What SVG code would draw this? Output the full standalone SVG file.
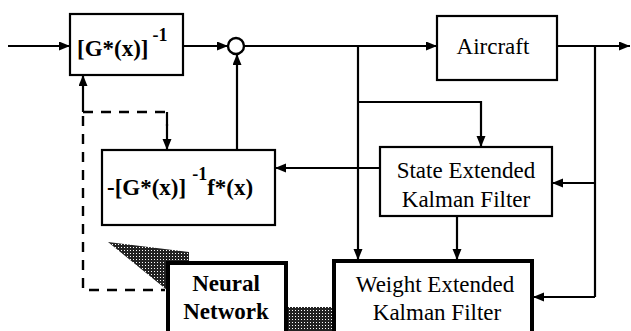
<svg xmlns="http://www.w3.org/2000/svg" width="631" height="331" viewBox="0 0 631 331">
<defs>
<marker id="ah" markerUnits="userSpaceOnUse" markerWidth="12" markerHeight="10" refX="11" refY="4.5" orient="auto">
<path d="M0,0 L11,4.5 L0,9 z" fill="#000"/>
</marker>
<pattern id="dither" width="3" height="3" patternUnits="userSpaceOnUse">
<rect width="3" height="3" fill="#222"/>
<rect x="1" y="1" width="1" height="1" fill="#fff"/>
</pattern>
<style>
.box{fill:#fff;stroke:#000;stroke-width:2.2}
.thick{fill:#fff;stroke:#000;stroke-width:4}
.ln{fill:none;stroke:#000;stroke-width:2.2}
.arr{fill:none;stroke:#000;stroke-width:2.2;marker-end:url(#ah)}
.dash{fill:none;stroke:#000;stroke-width:2.4;stroke-dasharray:10 8}
.t{font-family:"Liberation Serif","Times New Roman",serif;font-size:23px;fill:#000;text-anchor:middle}
.b{font-family:"Liberation Serif","Times New Roman",serif;font-size:23px;font-weight:bold;fill:#000}
.bs{font-family:"Liberation Serif","Times New Roman",serif;font-size:18px;font-weight:bold;fill:#000}
</style>
</defs>
<rect width="631" height="331" fill="#fff"/>

<g id="shadows">
<polygon points="108,242 189,252 189,263 167,263 167,290" fill="url(#dither)"/>
<rect x="287" y="307" width="46" height="24" fill="url(#dither)"/>
</g>

<g id="connectors">
<line class="arr" x1="8" y1="46" x2="70" y2="46"/>
<line class="arr" x1="183" y1="46" x2="228" y2="46"/>
<line class="arr" x1="244" y1="46" x2="437" y2="46"/>
<line class="arr" x1="557" y1="46" x2="630" y2="46"/>
<line class="arr" x1="237" y1="150" x2="237" y2="54"/>
<polyline class="arr" points="358,46 358,260"/>
<polyline class="arr" points="358,102 481,102 481,147"/>
<line class="arr" x1="380" y1="168" x2="275" y2="168"/>
<line class="ln" x1="595" y1="46" x2="595" y2="297"/>
<line class="arr" x1="595" y1="183" x2="552" y2="183"/>
<line class="arr" x1="595" y1="297" x2="533" y2="297"/>
<line class="arr" x1="457" y1="216" x2="457" y2="260"/>
<line class="arr" x1="83" y1="112" x2="83" y2="75"/>
<path class="dash" d="M83,112 L165,112"/>
<path class="arr" d="M167,124 L167,150"/>
<line class="ln" x1="167" y1="112" x2="167" y2="126"/>
<path class="dash" d="M83,116 L83,290 L165,290"/>
</g>

<g id="sum">
<circle cx="236" cy="46" r="8" fill="#fff" stroke="#000" stroke-width="2.4"/>
</g>

<g id="ginv">
<rect class="box" x="70" y="14" width="113" height="61"/>
<text class="b" x="77" y="56">[G*(x)]<tspan class="bs" dx="4" dy="-15">-1</tspan></text>
</g>

<g id="aircraft">
<rect class="box" x="437" y="16" width="120" height="64"/>
<text class="t" x="493" y="54">Aircraft</text>
</g>

<g id="feedback">
<rect class="box" x="102" y="150" width="173" height="75"/>
<text class="b" x="107" y="195">-[G*(x)]<tspan class="bs" dx="6" dy="-15">-1</tspan><tspan dy="15">f*(x)</tspan></text>
</g>

<g id="state">
<rect class="box" x="380" y="147" width="172" height="69"/>
<text class="t" x="466" y="178">State Extended</text>
<text class="t" x="466" y="207">Kalman Filter</text>
</g>

<g id="neural">
<rect class="thick" x="168" y="263" width="118" height="72"/>
<text class="b" x="226" y="291" text-anchor="middle">Neural</text>
<text class="b" x="226" y="319" text-anchor="middle">Network</text>
</g>

<g id="weight">
<rect class="thick" x="334" y="261" width="198" height="74"/>
<text class="t" x="435" y="292">Weight Extended</text>
<text class="t" x="437" y="320">Kalman Filter</text>
</g>
</svg>
